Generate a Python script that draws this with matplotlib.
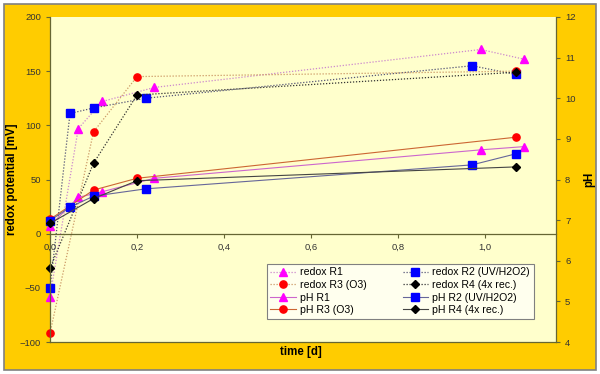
import numpy as np
import matplotlib.pyplot as plt
from matplotlib.patches import Rectangle
from matplotlib.ticker import FuncFormatter

plt.rcParams['font.family'] = ['Liberation Sans', 'DejaVu Sans']

# time [d] and values per reactor
t_r1 = [0, 0.065, 0.12, 0.24, 0.99, 1.09]
redox_r1 = [-58, 97, 122, 135, 170, 161]
ph_r1 = [6.86, 7.56, 7.70, 8.03, 8.73, 8.81]

t_r2 = [0, 0.046, 0.10, 0.22, 0.97, 1.07]
redox_r2 = [-50, 111, 116, 125, 155, 147]
ph_r2 = [6.99, 7.32, 7.59, 7.77, 8.36, 8.63]

t_r3 = [0, 0.10, 0.20, 1.07]
redox_r3 = [-92, 94, 145, 150]
ph_r3 = [7.02, 7.74, 8.03, 9.04]

t_r4 = [0, 0.10, 0.20, 1.07]
redox_r4 = [-32, 65, 128, 149]
ph_r4 = [6.92, 7.53, 7.97, 8.31]

gold = '#FFCC00'
axcol = '#666633'
txtcol = '#333333'

fig = plt.figure(figsize=(6, 3.74), dpi=100, facecolor='white')
fig.patches.append(Rectangle((0.006, 0.01), 0.988, 0.98, transform=fig.transFigure,
                             facecolor=gold, edgecolor='#808080', lw=1.2, zorder=-10))

ax = fig.add_axes([50/600, 32/374, 506/600, 325/374])
ax.set_facecolor('#FFFFCC')
ax2 = ax.twinx()

dot = (0, (1, 1.4))
ms = 5.2

l1, = ax.plot(t_r1, redox_r1, ls=dot, lw=0.9, color='#CC88CC', marker='^', ms=ms,
              mfc='#FF00FF', mec='#FF00FF', label='redox R1', clip_on=False)
l2, = ax.plot(t_r2, redox_r2, ls=dot, lw=0.9, color='#555577', marker='s', ms=ms,
              mfc='#0000FF', mec='#0000FF', label='redox R2 (UV/H2O2)', clip_on=False)
l3, = ax.plot(t_r3, redox_r3, ls=dot, lw=0.9, color='#CC9966', marker='o', ms=ms,
              mfc='#FF0000', mec='#FF0000', label='redox R3 (O3)', clip_on=False)
l4, = ax.plot(t_r4, redox_r4, ls=dot, lw=0.9, color='#333333', marker='D', ms=3.8,
              mfc='black', mec='black', label='redox R4 (4x rec.)', clip_on=False)

p1, = ax2.plot(t_r1, ph_r1, lw=0.8, color='#CC66CC', marker='^', ms=ms,
               mfc='#FF00FF', mec='#FF00FF', label='pH R1', clip_on=False)
p3, = ax2.plot(t_r3, ph_r3, lw=0.8, color='#CC6633', marker='o', ms=ms,
               mfc='#FF0000', mec='#FF0000', label='pH R3 (O3)', clip_on=False)
p2, = ax2.plot(t_r2, ph_r2, lw=0.8, color='#666699', marker='s', ms=ms,
               mfc='#0000FF', mec='#0000FF', label='pH R2 (UV/H2O2)', clip_on=False)
p4, = ax2.plot(t_r4, ph_r4, lw=0.8, color='#444444', marker='D', ms=3.8,
               mfc='black', mec='black', label='pH R4 (4x rec.)', clip_on=False)

ax.set_xlim(0, 1.163)
ax.set_ylim(-100, 200)
ax2.set_ylim(4, 12)
ax.set_yticks(np.arange(-100, 201, 50))
ax2.set_yticks(np.arange(4, 13, 1))
ax.set_xticks(np.arange(0, 1.01, 0.2))
ax.xaxis.set_major_formatter(FuncFormatter(lambda v, _: f"{v:.1f}".replace('.', ',')))

for a in (ax, ax2):
    a.spines['top'].set_visible(False)
    for s in a.spines.values():
        s.set_color(axcol)
        s.set_linewidth(0.9)
ax.spines['right'].set_visible(False)
ax.spines['bottom'].set_position(('data', 0))
ax2.spines['left'].set_visible(False)

ax.tick_params(axis='both', colors=axcol, labelcolor=txtcol, labelsize=6.8,
               length=3, width=0.8, direction='out')
ax2.tick_params(axis='y', colors=axcol, labelcolor=txtcol, labelsize=6.8,
                length=3, width=0.8, direction='out')
ax2.tick_params(axis='x', bottom=False, labelbottom=False)

ax.set_ylabel('redox potential [mV]', fontsize=8.3, fontweight='bold', color='black')
ax.yaxis.set_label_coords((18 - 50) / 506, 0.5)
ax2.set_ylabel('pH', fontsize=8.3, fontweight='bold', color='black')
ax2.yaxis.set_label_coords((583 - 50) / 506, 0.5)
fig.text(301/600, 1 - 352/374, 'time [d]', fontsize=8.3, fontweight='bold',
         ha='center', va='center')

handles = [l1, l3, p1, p3, l2, l4, p2, p4]
leg = ax2.legend(handles=handles, ncol=2, loc='lower right',
                 bbox_to_anchor=(0.966, 0.055), fontsize=7.6, frameon=True,
                 fancybox=False, edgecolor='#808080', facecolor='#FFFFEE',
                 framealpha=1, handlelength=2.4, columnspacing=3.4,
                 labelspacing=0.25, borderpad=0.35, handletextpad=0.4)
leg.get_frame().set_linewidth(0.8)
leg.set_zorder(10)

fig.savefig('out.png', dpi=100, facecolor=fig.get_facecolor())
